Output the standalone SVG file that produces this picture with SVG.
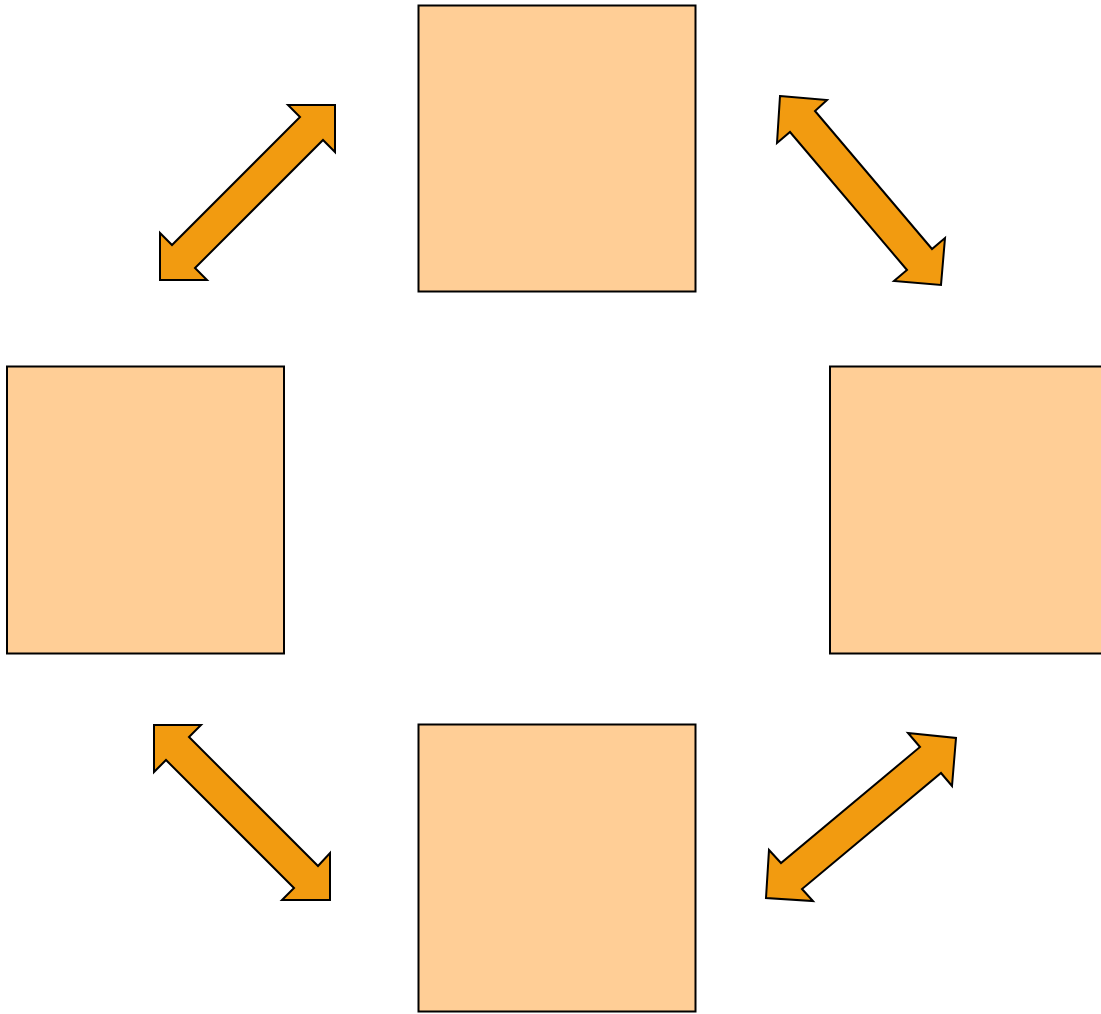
<svg xmlns="http://www.w3.org/2000/svg" width="1101" height="1014" viewBox="0 0 1101 1014">
<style>
.box{fill:#FFCE96;stroke:#000;stroke-width:2}
.arr{fill:#F29B10;stroke:#000;stroke-width:2;stroke-linejoin:miter}
</style>
<rect width="1101" height="1014" fill="#fff"/>
<g id="node-top"><rect class="box" x="418.5" y="5.5" width="277" height="286"/></g>
<g id="node-left"><rect class="box" x="7" y="366.5" width="277" height="287"/></g>
<g id="node-right"><rect class="box" x="830" y="366.5" width="277" height="287"/></g>
<g id="node-bottom"><rect class="box" x="418.5" y="724.5" width="277" height="287"/></g>
<g id="connectors">
<polygon class="arr" points="335,105 335,152 323,140 195,268 207,280 160,280 160,233 172,245 300,117 288,105"/>
<polygon class="arr" points="780,96 827,100 815,111 932,249 945,238 941,285 894,281 907,270 790,132 777,143"/>
<polygon class="arr" points="154,725 201,725 189,737 318,866 330,853 330,900 282,900 294,888 166,760 154,772"/>
<polygon class="arr" points="956,738 952,786 941,773 802,889 813,901 766,898 769,850 781,863 920,747 908,733"/>
</g>
</svg>
